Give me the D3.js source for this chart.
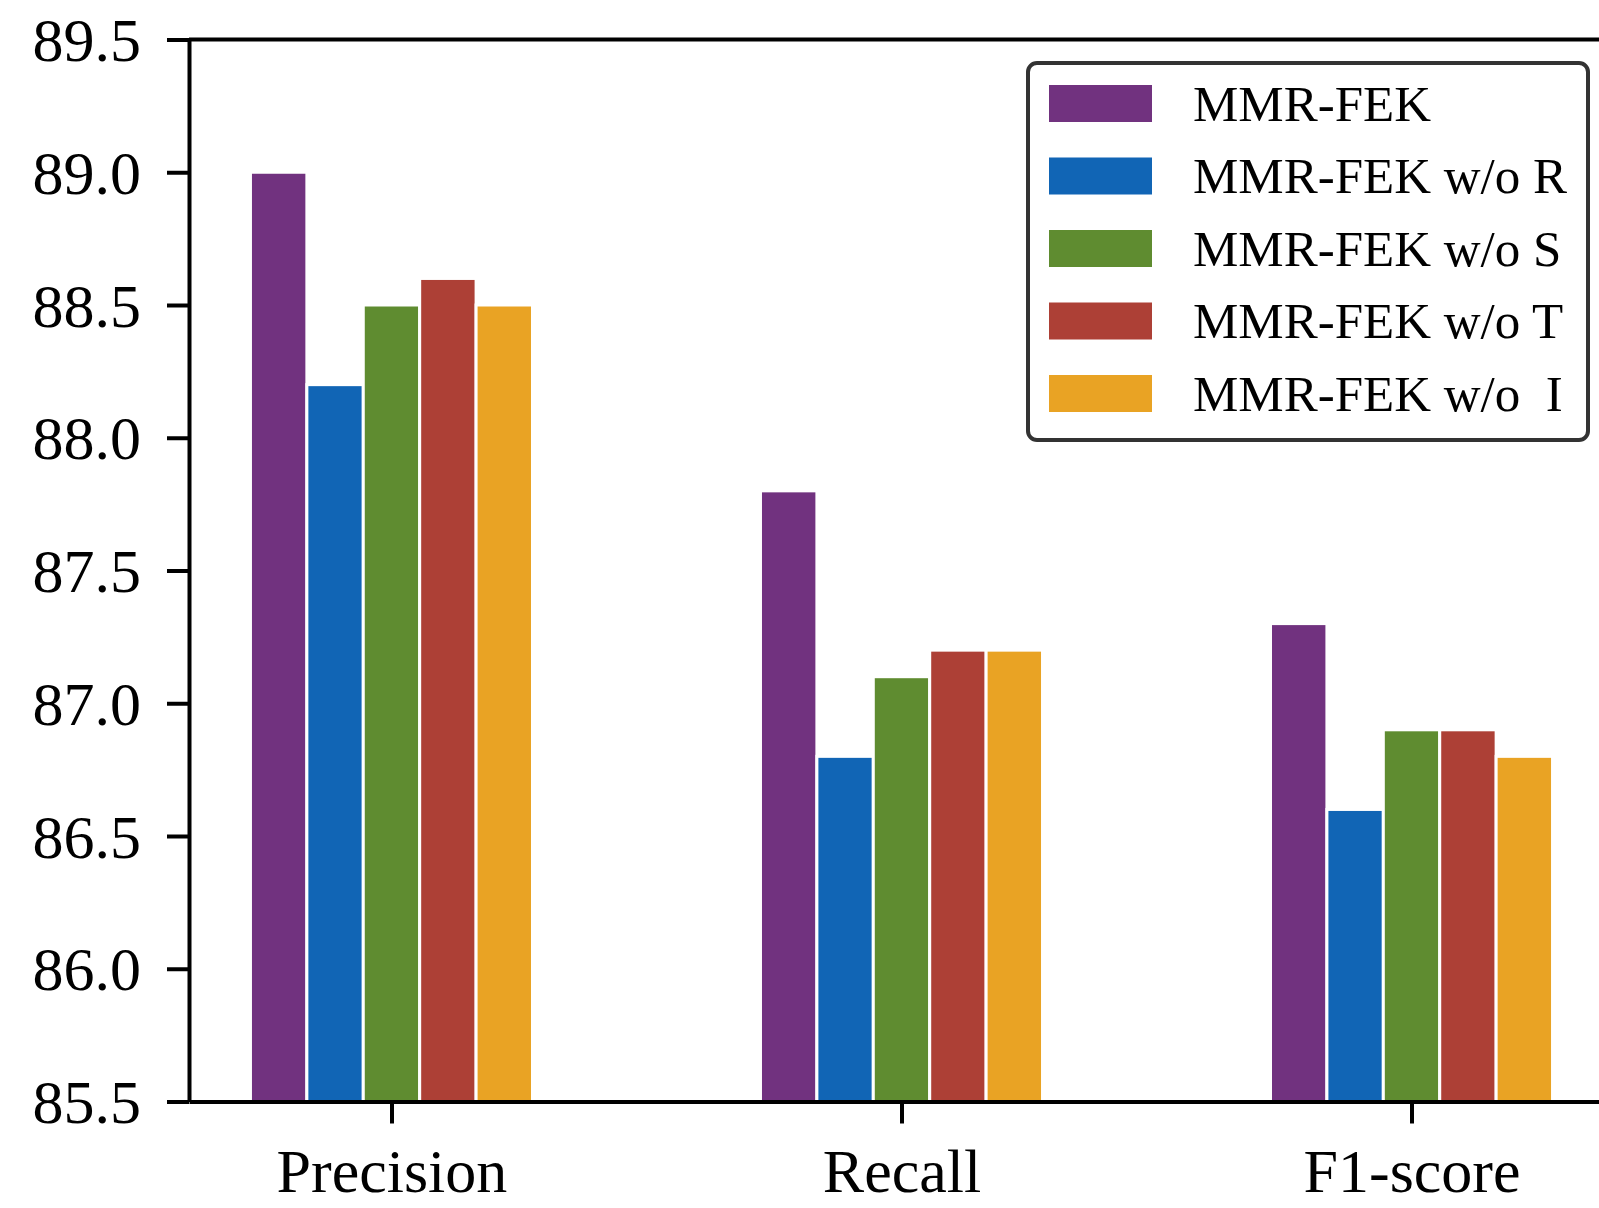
<!DOCTYPE html>
<html lang="en">
<head>
<meta charset="UTF-8"/>
<title>MMR-FEK ablation</title>
<script src="https://d3js.org/d3.v7.min.js"></script>
<style>
	body { margin: 0; background: #fff; }
	svg { display: block; }
	text { font-family: "Liberation Serif", "Times New Roman", serif; fill: #000; }
</style>
</head>
<body>
<script>
var w = 1599;
var h = 1208;

// data
var categories = ["Precision", "Recall", "F1-score"];
var seriesNames = ["MMR-FEK", "MMR-FEK w/o R", "MMR-FEK w/o S", "MMR-FEK w/o T", "MMR-FEK w/o  I"];
var seriesColors = ["#71327f", "#1165b5", "#5f8c30", "#ad4036", "#e9a324"];
var fullModel = [89.0, 87.8, 87.3];
var withoutR = [88.2, 86.8, 86.6];
var withoutS = [88.5, 87.1, 86.9];
var withoutT = [88.6, 87.2, 86.9];
var withoutI = [88.5, 87.2, 86.8];
var yTicks = [85.5, 86.0, 86.5, 87.0, 87.5, 88.0, 88.5, 89.0, 89.5];

var seriesValues = [fullModel, withoutR, withoutS, withoutT, withoutI];

// plot area (the right spine falls just outside the picture)
var plotLeft = 189, plotRight = 1614, plotTop = 39.5, plotBottom = 1101.5;
var barW = 0.1106; // in category units

var xScale = d3.scaleLinear()
	.domain([-0.397, 2.397])
	.range([plotLeft, plotRight]);

var yScale = d3.scaleLinear()
	.domain([85.5, 89.5])
	.range([plotBottom, plotTop]);

var svg = d3.select("body")
	.append("svg")
	.attr("width", w)
	.attr("height", h);

// bars
seriesValues.forEach(function (vals, s) {
	svg.append("g")
		.selectAll("rect")
		.data(vals)
		.enter()
		.append("rect")
		.attr("x", function (d, i) {
			return xScale(i + (s - 2.5) * barW);
		})
		.attr("y", function (d) { return yScale(d); })
		.attr("width", xScale(barW) - xScale(0))
		.attr("height", function (d) { return yScale(85.5) - yScale(d); })
		.attr("fill", seriesColors[s])
		.attr("stroke", "#fff")
		.attr("stroke-width", 3);
});

// axes
var xAxis = d3.axisBottom(xScale)
	.tickValues([0, 1, 2])
	.tickFormat(function (d) { return categories[d]; })
	.tickSizeInner(22)
	.tickSizeOuter(0)
	.tickPadding(24);
var gx = svg.append("g")
	.attr("transform", "translate(0," + plotBottom + ")")
	.call(xAxis);

var yAxis = d3.axisLeft(yScale)
	.tickValues(yTicks)
	.tickFormat(d3.format(".1f"))
	.tickSizeInner(22)
	.tickSizeOuter(0)
	.tickPadding(26);
var gy = svg.append("g")
	.attr("transform", "translate(" + plotLeft + ",0)")
	.call(yAxis);

[gx, gy].forEach(function (g) {
	g.select(".domain").attr("stroke", "#000").attr("stroke-width", 4);
	g.selectAll(".tick line").attr("stroke", "#000").attr("stroke-width", 4);
	g.selectAll(".tick text")
		.attr("font-family", "Liberation Serif, Times New Roman, serif")
		.attr("font-size", 62)
		.attr("fill", "#000");
});
gy.selectAll(".tick text").attr("dy", "0.34em");

// top and right spines
svg.append("line")
	.attr("x1", plotLeft).attr("x2", plotRight)
	.attr("y1", plotTop).attr("y2", plotTop)
	.attr("stroke", "#000").attr("stroke-width", 4);
svg.append("line")
	.attr("x1", plotRight).attr("x2", plotRight)
	.attr("y1", plotTop).attr("y2", plotBottom)
	.attr("stroke", "#000").attr("stroke-width", 4);

// legend
var legend = svg.append("g");
legend.append("rect")
	.attr("x", 1028).attr("y", 63)
	.attr("width", 560).attr("height", 377)
	.attr("rx", 9).attr("ry", 9)
	.attr("fill", "#fff")
	.attr("stroke", "#333")
	.attr("stroke-width", 4);

var rows = legend.selectAll("g.row")
	.data(seriesNames)
	.enter()
	.append("g")
	.attr("class", "row")
	.attr("transform", function (d, i) {
		return "translate(0," + (103.5 + i * 72.5) + ")";
	});
rows.append("rect")
	.attr("x", 1049).attr("y", -18.5)
	.attr("width", 103).attr("height", 37)
	.attr("fill", function (d, i) { return seriesColors[i]; });
rows.append("text")
	.attr("x", 1193)
	.attr("y", 17)
	.attr("font-size", 51)
	.attr("xml:space", "preserve")
	.style("white-space", "pre")
	.text(function (d) { return d; });
</script>
</body>
</html>
